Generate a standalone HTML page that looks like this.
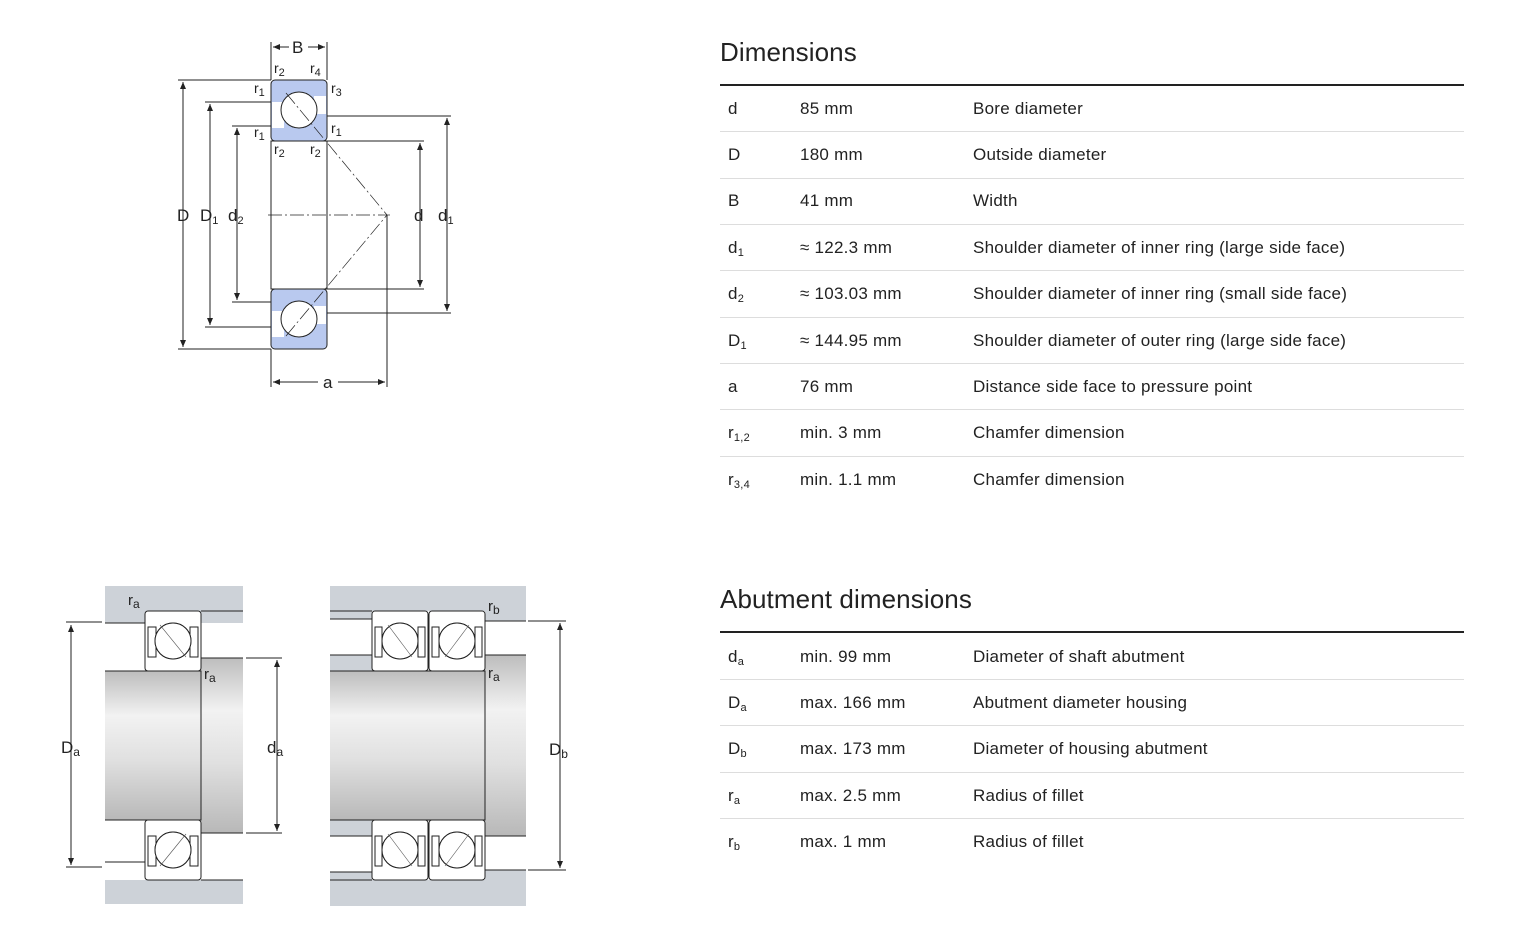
<!DOCTYPE html>
<html><head><meta charset="utf-8"><style>
body{margin:0;width:1527px;height:951px;background:#fff;position:relative;overflow:hidden;font-family:"Liberation Sans",sans-serif;color:#222}
.t{position:absolute;font-size:17px;letter-spacing:0.25px;line-height:20px;white-space:nowrap}
.h{position:absolute;left:720px;font-size:26px;letter-spacing:0.1px;color:#222}
.hl{position:absolute;left:720px;width:744px;height:2px;background:#222}
.sl{position:absolute;left:720px;width:744px;height:1px;background:#ddd}
sub{font-size:11px;vertical-align:-3px;line-height:0}
svg{position:absolute;left:0;top:0}
svg text{font-family:"Liberation Sans",sans-serif;fill:#222}
</style></head><body>
<svg width="1527" height="951" viewBox="0 0 1527 951">
<defs>
<linearGradient id="g" x1="0" y1="0" x2="0" y2="1">
<stop offset="0" stop-color="#bdbdbd"/><stop offset="0.3" stop-color="#f2f2f2"/><stop offset="0.6" stop-color="#e0e0e0"/><stop offset="1" stop-color="#b8b8b8"/></linearGradient>
<marker id="ar" markerWidth="8" markerHeight="8" refX="7" refY="3" orient="auto-start-reverse"><path d="M0,0 L7,3 L0,6z" fill="#222"/></marker>
</defs>
<g stroke="#222" stroke-width="1" fill="none">
<rect x="271" y="80" width="56" height="61" rx="4" fill="#b9c9ef"/>
<rect x="271" y="289" width="56" height="60" rx="4" fill="#b9c9ef"/>
<rect x="271" y="141" width="56" height="148" fill="#fff"/>
<rect x="272" y="102" width="12" height="26" fill="#fff" stroke="none"/>
<rect x="314" y="96" width="12" height="18" fill="#fff" stroke="none"/>
<rect x="272" y="311" width="12" height="26" fill="#fff" stroke="none"/>
<rect x="314" y="306" width="12" height="18" fill="#fff" stroke="none"/>
<circle cx="299" cy="110" r="18" fill="#fff"/>
<circle cx="299" cy="319" r="18" fill="#fff"/>
<line x1="183" y1="82" x2="183" y2="347" marker-start="url(#ar)" marker-end="url(#ar)"/>
<line x1="178" y1="80" x2="271" y2="80"/><line x1="178" y1="349" x2="271" y2="349"/>
<line x1="210" y1="104" x2="210" y2="325" marker-start="url(#ar)" marker-end="url(#ar)"/>
<line x1="205" y1="102" x2="271" y2="102"/><line x1="205" y1="327" x2="271" y2="327"/>
<line x1="237" y1="128" x2="237" y2="300" marker-start="url(#ar)" marker-end="url(#ar)"/>
<line x1="232" y1="126" x2="271" y2="126"/><line x1="232" y1="302" x2="271" y2="302"/>
<line x1="420" y1="143" x2="420" y2="287" marker-start="url(#ar)" marker-end="url(#ar)"/>
<line x1="327" y1="141" x2="424" y2="141"/><line x1="327" y1="289" x2="424" y2="289"/>
<line x1="447" y1="118" x2="447" y2="311" marker-start="url(#ar)" marker-end="url(#ar)"/>
<line x1="327" y1="116" x2="451" y2="116"/><line x1="327" y1="313" x2="451" y2="313"/>
<line x1="271" y1="42" x2="271" y2="80"/><line x1="327" y1="42" x2="327" y2="80"/>
<line x1="273" y1="47" x2="289" y2="47" marker-start="url(#ar)"/><line x1="308" y1="47" x2="325" y2="47" marker-end="url(#ar)"/>
<line x1="271" y1="349" x2="271" y2="387"/><line x1="387" y1="215" x2="387" y2="387"/>
<line x1="273" y1="382" x2="318" y2="382" marker-start="url(#ar)"/><line x1="338" y1="382" x2="385" y2="382" marker-end="url(#ar)"/>
<line x1="268" y1="215" x2="390" y2="215" stroke-dasharray="14,3,2,3" stroke-width="0.7"/>
<line x1="286" y1="93" x2="387" y2="215" stroke-width="0.7" stroke-dasharray="14,3,2,3"/>
<line x1="286" y1="336" x2="387" y2="215" stroke-width="0.7" stroke-dasharray="14,3,2,3"/>
<rect x="105" y="586" width="138" height="37" fill="#cdd2d8" stroke="none"/>
<rect x="105" y="880" width="138" height="24" fill="#cdd2d8" stroke="none"/>
<rect x="105" y="671" width="96" height="149" fill="url(#g)" stroke="none"/>
<rect x="201" y="658" width="42" height="175" fill="url(#g)" stroke="none"/>
<path d="M105 671H201V820H105M201 658H243M201 833H243M105 623H145M201 611H243M105 862H145M201 880H243"/>
<rect x="145" y="611" width="56" height="60" rx="3" fill="#fff"/>
<rect x="145" y="820" width="56" height="60" rx="3" fill="#fff"/>
<circle cx="173" cy="641" r="18"/><circle cx="173" cy="850" r="18"/>
<rect x="148" y="627" width="8" height="30"/><rect x="190" y="627" width="8" height="30"/>
<rect x="148" y="836" width="8" height="30"/><rect x="190" y="836" width="8" height="30"/>
<line x1="71" y1="625" x2="71" y2="865" marker-start="url(#ar)" marker-end="url(#ar)"/>
<line x1="66" y1="622" x2="102" y2="622"/><line x1="66" y1="867" x2="102" y2="867"/>
<line x1="277" y1="660" x2="277" y2="831" marker-start="url(#ar)" marker-end="url(#ar)"/>
<line x1="246" y1="658" x2="282" y2="658"/><line x1="246" y1="833" x2="282" y2="833"/>
<rect x="330" y="586" width="196" height="25" fill="#cdd2d8" stroke="none"/>
<rect x="485" y="611" width="41" height="10" fill="#cdd2d8" stroke="none"/>
<rect x="330" y="611" width="42" height="8" fill="#cdd2d8" stroke="none"/>
<rect x="330" y="880" width="196" height="26" fill="#cdd2d8" stroke="none"/>
<rect x="485" y="870" width="41" height="10" fill="#cdd2d8" stroke="none"/>
<rect x="330" y="872" width="42" height="8" fill="#cdd2d8" stroke="none"/>
<rect x="330" y="655" width="42" height="16" fill="#cdd2d8" stroke="none"/>
<rect x="330" y="820" width="42" height="16" fill="#cdd2d8" stroke="none"/>
<rect x="330" y="671" width="155" height="149" fill="url(#g)" stroke="none"/>
<rect x="485" y="655" width="41" height="181" fill="url(#g)" stroke="none"/>
<path d="M330 671H485V820H330M330 655H372M330 836H372M330 619H372M330 872H372M485 621H526M485 870H526M485 655H526M485 836H526M330 611H372M330 880H372"/>
<rect x="372" y="611" width="56" height="60" rx="3" fill="#fff"/>
<rect x="429" y="611" width="56" height="60" rx="3" fill="#fff"/>
<rect x="372" y="820" width="56" height="60" rx="3" fill="#fff"/>
<rect x="429" y="820" width="56" height="60" rx="3" fill="#fff"/>
<circle cx="400" cy="641" r="18"/><circle cx="457" cy="641" r="18"/>
<circle cx="400" cy="850" r="18"/><circle cx="457" cy="850" r="18"/>
<rect x="375" y="627" width="7" height="30"/><rect x="418" y="627" width="7" height="30"/>
<rect x="432" y="627" width="7" height="30"/><rect x="475" y="627" width="7" height="30"/>
<rect x="375" y="836" width="7" height="30"/><rect x="418" y="836" width="7" height="30"/>
<rect x="432" y="836" width="7" height="30"/><rect x="475" y="836" width="7" height="30"/>
<circle cx="400" cy="641" r="18" fill="#fff"/><circle cx="457" cy="641" r="18" fill="#fff"/>
<circle cx="400" cy="850" r="18" fill="#fff"/><circle cx="457" cy="850" r="18" fill="#fff"/>
<circle cx="173" cy="641" r="18" fill="#fff"/><circle cx="173" cy="850" r="18" fill="#fff"/>
<line x1="560" y1="623" x2="560" y2="868" marker-start="url(#ar)" marker-end="url(#ar)"/>
<line x1="528" y1="621" x2="566" y2="621"/><line x1="528" y1="870" x2="566" y2="870"/>
</g>
<g stroke="#555" stroke-width="0.6">
<line x1="160" y1="625" x2="186" y2="657"/><line x1="160" y1="866" x2="186" y2="834"/>
<line x1="388" y1="625" x2="412" y2="657"/><line x1="445" y1="657" x2="469" y2="625"/>
<line x1="388" y1="834" x2="412" y2="866"/><line x1="445" y1="866" x2="469" y2="834"/>
</g>
<g font-size="17">
<text x="292" y="53">B</text>
<text x="323" y="388">a</text>
<text x="177" y="221">D</text>
<text x="200" y="221">D<tspan font-size="11" dy="3">1</tspan></text>
<text x="228" y="221">d<tspan font-size="11" dy="3">2</tspan></text>
<text x="414" y="221">d</text>
<text x="438" y="221">d<tspan font-size="11" dy="3">1</tspan></text>
<text x="274" y="73" font-size="14">r<tspan font-size="11" dy="3">2</tspan></text>
<text x="310" y="73" font-size="14">r<tspan font-size="11" dy="3">4</tspan></text>
<text x="254" y="93" font-size="14">r<tspan font-size="11" dy="3">1</tspan></text>
<text x="331" y="93" font-size="14">r<tspan font-size="11" dy="3">3</tspan></text>
<text x="254" y="137" font-size="14">r<tspan font-size="11" dy="3">1</tspan></text>
<text x="331" y="133" font-size="14">r<tspan font-size="11" dy="3">1</tspan></text>
<text x="274" y="154" font-size="14">r<tspan font-size="11" dy="3">2</tspan></text>
<text x="310" y="154" font-size="14">r<tspan font-size="11" dy="3">2</tspan></text>
<text x="61" y="753">D<tspan font-size="12" dy="3">a</tspan></text>
<text x="267" y="753">d<tspan font-size="12" dy="3">a</tspan></text>
<text x="549" y="755">D<tspan font-size="12" dy="3">b</tspan></text>
<text x="128" y="605" font-size="15">r<tspan font-size="12" dy="3">a</tspan></text>
<text x="204" y="679" font-size="15">r<tspan font-size="12" dy="3">a</tspan></text>
<text x="488" y="611" font-size="15">r<tspan font-size="12" dy="3">b</tspan></text>
<text x="488" y="678" font-size="15">r<tspan font-size="12" dy="3">a</tspan></text>
</g>
</svg>

<div class="h" style="top:37px">Dimensions</div>
<div class="hl" style="top:84px"></div>
<div class="sl" style="top:131px"></div><div class="sl" style="top:178px"></div><div class="sl" style="top:224px"></div><div class="sl" style="top:270px"></div><div class="sl" style="top:317px"></div><div class="sl" style="top:363px"></div><div class="sl" style="top:409px"></div><div class="sl" style="top:456px"></div>
<div class="t" style="left:728px;top:99px">d</div><div class="t" style="left:800px;top:99px">85 mm</div><div class="t" style="left:973px;top:99px">Bore diameter</div>
<div class="t" style="left:728px;top:145px">D</div><div class="t" style="left:800px;top:145px">180 mm</div><div class="t" style="left:973px;top:145px">Outside diameter</div>
<div class="t" style="left:728px;top:191px">B</div><div class="t" style="left:800px;top:191px">41 mm</div><div class="t" style="left:973px;top:191px">Width</div>
<div class="t" style="left:728px;top:238px">d<sub>1</sub></div><div class="t" style="left:800px;top:238px">≈ 122.3 mm</div><div class="t" style="left:973px;top:238px">Shoulder diameter of inner ring (large side face)</div>
<div class="t" style="left:728px;top:284px">d<sub>2</sub></div><div class="t" style="left:800px;top:284px">≈ 103.03 mm</div><div class="t" style="left:973px;top:284px">Shoulder diameter of inner ring (small side face)</div>
<div class="t" style="left:728px;top:331px">D<sub>1</sub></div><div class="t" style="left:800px;top:331px">≈ 144.95 mm</div><div class="t" style="left:973px;top:331px">Shoulder diameter of outer ring (large side face)</div>
<div class="t" style="left:728px;top:377px">a</div><div class="t" style="left:800px;top:377px">76 mm</div><div class="t" style="left:973px;top:377px">Distance side face to pressure point</div>
<div class="t" style="left:728px;top:423px">r<sub>1,2</sub></div><div class="t" style="left:800px;top:423px">min. 3 mm</div><div class="t" style="left:973px;top:423px">Chamfer dimension</div>
<div class="t" style="left:728px;top:470px">r<sub>3,4</sub></div><div class="t" style="left:800px;top:470px">min. 1.1 mm</div><div class="t" style="left:973px;top:470px">Chamfer dimension</div>

<div class="h" style="top:584px">Abutment dimensions</div>
<div class="hl" style="top:631px"></div>
<div class="sl" style="top:679px"></div><div class="sl" style="top:725px"></div><div class="sl" style="top:772px"></div><div class="sl" style="top:818px"></div>
<div class="t" style="left:728px;top:647px">d<sub>a</sub></div><div class="t" style="left:800px;top:647px">min. 99 mm</div><div class="t" style="left:973px;top:647px">Diameter of shaft abutment</div>
<div class="t" style="left:728px;top:693px">D<sub>a</sub></div><div class="t" style="left:800px;top:693px">max. 166 mm</div><div class="t" style="left:973px;top:693px">Abutment diameter housing</div>
<div class="t" style="left:728px;top:739px">D<sub>b</sub></div><div class="t" style="left:800px;top:739px">max. 173 mm</div><div class="t" style="left:973px;top:739px">Diameter of housing abutment</div>
<div class="t" style="left:728px;top:786px">r<sub>a</sub></div><div class="t" style="left:800px;top:786px">max. 2.5 mm</div><div class="t" style="left:973px;top:786px">Radius of fillet</div>
<div class="t" style="left:728px;top:832px">r<sub>b</sub></div><div class="t" style="left:800px;top:832px">max. 1 mm</div><div class="t" style="left:973px;top:832px">Radius of fillet</div>
</body></html>
